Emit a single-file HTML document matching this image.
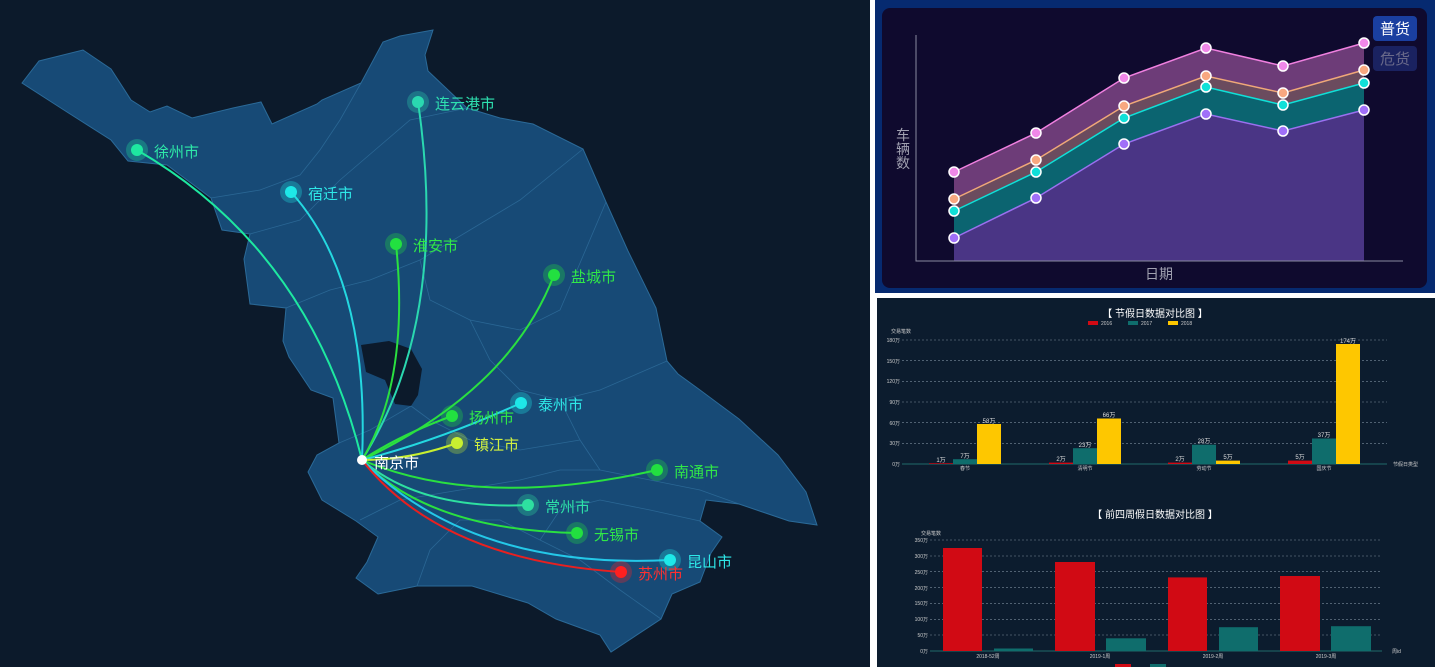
<!DOCTYPE html>
<html><head><meta charset="utf-8"><style>
html,body{margin:0;padding:0;background:#fff}
svg{display:block}
text{font-family:"Liberation Sans","Noto Sans CJK SC",sans-serif}
</style></head><body>
<svg width="1435" height="667" viewBox="0 0 1435 667" xmlns="http://www.w3.org/2000/svg">
<defs>
<radialGradient id="g"><stop offset="0" stop-color="#fff" stop-opacity="0.5"/><stop offset="1" stop-color="#fff" stop-opacity="0"/></radialGradient>
</defs>
<!-- left map panel -->
<rect x="0" y="0" width="870" height="667" fill="#0c1a2b"/>
<polygon fill="#174a76" stroke="#2b6a98" stroke-width="1" points="22,83 39,61 83,50 111,69 131,100 150,112 167,106 192,118 233,108 261,102 272,124 317,104 322,100 361,83 383,42 400,36 433,30 425,55 428,71 467,108 500,118 533,124 583,149 606,202 628,251 656,308 667,361 678,374 700,390 739,419 778,455 806,492 817,525 789,521 739,504 706,500 700,521 722,537 711,553 700,582 672,594 661,619 611,652 600,635 556,619 528,603 472,586 417,586 378,594 356,578 367,562 378,537 356,521 322,500 308,472 317,455 339,443 333,398 311,390 289,357 283,341 286,308 250,304 244,259 250,234 222,230 211,198 167,165 128,161 111,140 67,112"/>
<polygon fill="#0c1a2b" points="361,345 389,341 411,349 422,369 418,395 411,406 395,404 385,380 366,372"/>
<g fill="none" stroke="#2f6e9c" stroke-width="0.8" opacity="0.8">
<path d="M250,234 L300,220 L340,180 L375,150 L410,120 L467,108"/>
<path d="M211,198 L260,190 L300,175 L320,150 L340,120 L361,83"/>
<path d="M286,308 L330,290 L370,280 L420,260 L470,230 L520,200 L583,149"/>
<path d="M420,260 L430,300 L470,320 L520,330 L560,310 L606,202"/>
<path d="M470,320 L490,360 L520,390 L560,400 L600,390 L667,361"/>
<path d="M560,400 L580,440 L600,470 L650,480 L700,490 L739,504"/>
<path d="M411,406 L430,420 L470,440 L520,450 L580,440"/>
<path d="M339,443 L370,430 L411,406"/>
<path d="M360,520 L400,500 L460,490 L520,480 L560,470 L600,470"/>
<path d="M417,586 L430,550 L460,520 L500,520 L540,540 L580,560 L620,590 L661,619"/>
<path d="M540,540 L560,510 L600,500 L650,510 L700,521"/>
</g>
<!-- flight lines -->
<g fill="none" stroke-width="2">
<path d="M137,150 Q310,250 362,460" stroke="#1ee8a0"/>
<path d="M418,102 Q450,320 362,460" stroke="#2ad8b0"/>
<path d="M291,192 Q370,280 362,460" stroke="#24d8e0"/>
<path d="M396,244 Q410,380 362,460" stroke="#2ae040"/>
<path d="M554,275 Q510,390 362,460" stroke="#2ae040"/>
<path d="M452,416 Q400,435 362,460" stroke="#2ae040"/>
<path d="M521,403 Q440,440 362,460" stroke="#24d8e0"/>
<path d="M457,443 Q410,460 362,460" stroke="#c8f030"/>
<path d="M657,470 Q480,510 362,460" stroke="#2ae040"/>
<path d="M528,505 Q420,510 362,460" stroke="#2ee0a0"/>
<path d="M577,533 Q430,530 362,460" stroke="#2ae040"/>
<path d="M670,560 Q470,570 362,460" stroke="#24c8e8"/>
<path d="M621,572 Q440,560 362,460" stroke="#e82020"/>
</g>
<!-- city points -->
<g>
<circle cx="137" cy="150" r="11" fill="#1ee8a0" opacity="0.3"/><circle cx="137" cy="150" r="6" fill="#1ee8a0"/>
<circle cx="418" cy="102" r="11" fill="#2ad8b0" opacity="0.3"/><circle cx="418" cy="102" r="6" fill="#2ad8b0"/>
<circle cx="291" cy="192" r="11" fill="#1ee8e8" opacity="0.3"/><circle cx="291" cy="192" r="6" fill="#1ee8e8"/>
<circle cx="396" cy="244" r="11" fill="#22e040" opacity="0.3"/><circle cx="396" cy="244" r="6" fill="#22e040"/>
<circle cx="554" cy="275" r="11" fill="#22e040" opacity="0.3"/><circle cx="554" cy="275" r="6" fill="#22e040"/>
<circle cx="452" cy="416" r="11" fill="#22e040" opacity="0.3"/><circle cx="452" cy="416" r="6" fill="#22e040"/>
<circle cx="521" cy="403" r="11" fill="#1ee8e8" opacity="0.3"/><circle cx="521" cy="403" r="6" fill="#1ee8e8"/>
<circle cx="457" cy="443" r="11" fill="#c8f030" opacity="0.3"/><circle cx="457" cy="443" r="6" fill="#c8f030"/>
<circle cx="657" cy="470" r="11" fill="#22e040" opacity="0.3"/><circle cx="657" cy="470" r="6" fill="#22e040"/>
<circle cx="528" cy="505" r="11" fill="#2ee0a0" opacity="0.3"/><circle cx="528" cy="505" r="6" fill="#2ee0a0"/>
<circle cx="577" cy="533" r="11" fill="#22e040" opacity="0.3"/><circle cx="577" cy="533" r="6" fill="#22e040"/>
<circle cx="670" cy="560" r="11" fill="#1ee8e8" opacity="0.3"/><circle cx="670" cy="560" r="6" fill="#1ee8e8"/>
<circle cx="621" cy="572" r="11" fill="#ff2020" opacity="0.3"/><circle cx="621" cy="572" r="6" fill="#ff2020"/>
<circle cx="362" cy="460" r="5" fill="#fff"/>
</g>
<g font-size="15">
<text x="154" y="157" fill="#2ee8a8">徐州市</text>
<text x="435" y="109" fill="#2ee0b0">连云港市</text>
<text x="308" y="199" fill="#2ee8e8">宿迁市</text>
<text x="413" y="251" fill="#30e848">淮安市</text>
<text x="571" y="282" fill="#30e848">盐城市</text>
<text x="469" y="423" fill="#30e848">扬州市</text>
<text x="538" y="410" fill="#2ee8e8">泰州市</text>
<text x="474" y="450" fill="#d0f040">镇江市</text>
<text x="674" y="477" fill="#30e848">南通市</text>
<text x="545" y="512" fill="#2ee0a8">常州市</text>
<text x="594" y="540" fill="#30e848">无锡市</text>
<text x="687" y="567" fill="#2ee8e8">昆山市</text>
<text x="638" y="579" fill="#ff3030">苏州市</text>
<text x="374" y="468" fill="#ffffff">南京市</text>
</g>

<!-- top right panel -->
<rect x="875" y="0" width="560" height="293" fill="#062a70"/>
<rect x="882" y="8" width="545" height="280" rx="8" fill="#0f0a2e"/>
<polygon fill="#6d3c78" points="954,172 1036,133 1124,78 1206,48 1283,66 1364,43 1364,70 1283,93 1206,76 1124,106 1036,160 954,199"/>
<polygon fill="#6b4b5e" points="954,199 1036,160 1124,106 1206,76 1283,93 1364,70 1364,83 1283,105 1206,87 1124,118 1036,172 954,211"/>
<polygon fill="#0b6470" points="954,211 1036,172 1124,118 1206,87 1283,105 1364,83 1364,110 1283,131 1206,114 1124,144 1036,198 954,238"/>
<polygon fill="#4a3585" points="954,238 1036,198 1124,144 1206,114 1283,131 1364,110 1364,261 954,261"/>
<g fill="none" stroke-width="1.5">
<polyline stroke="#f080e0" points="954,172 1036,133 1124,78 1206,48 1283,66 1364,43"/>
<polyline stroke="#f0a878" points="954,199 1036,160 1124,106 1206,76 1283,93 1364,70"/>
<polyline stroke="#10e0d8" points="954,211 1036,172 1124,118 1206,87 1283,105 1364,83"/>
<polyline stroke="#9a70f0" points="954,238 1036,198 1124,144 1206,114 1283,131 1364,110"/>
</g>
<g stroke="#fff" stroke-width="1.5">
<g fill="#f088e8"><circle cx="954" cy="172" r="5"/><circle cx="1036" cy="133" r="5"/><circle cx="1124" cy="78" r="5"/><circle cx="1206" cy="48" r="5"/><circle cx="1283" cy="66" r="5"/><circle cx="1364" cy="43" r="5"/></g>
<g fill="#f8a880"><circle cx="954" cy="199" r="5"/><circle cx="1036" cy="160" r="5"/><circle cx="1124" cy="106" r="5"/><circle cx="1206" cy="76" r="5"/><circle cx="1283" cy="93" r="5"/><circle cx="1364" cy="70" r="5"/></g>
<g fill="#10e0d8"><circle cx="954" cy="211" r="5"/><circle cx="1036" cy="172" r="5"/><circle cx="1124" cy="118" r="5"/><circle cx="1206" cy="87" r="5"/><circle cx="1283" cy="105" r="5"/><circle cx="1364" cy="83" r="5"/></g>
<g fill="#a070f8"><circle cx="954" cy="238" r="5"/><circle cx="1036" cy="198" r="5"/><circle cx="1124" cy="144" r="5"/><circle cx="1206" cy="114" r="5"/><circle cx="1283" cy="131" r="5"/><circle cx="1364" cy="110" r="5"/></g>
</g>
<path d="M916,35 V261 H1403" fill="none" stroke="#8a8aa0" stroke-width="1"/>
<text x="1159" y="279" fill="#a0a0b0" font-size="14" text-anchor="middle">日期</text>
<text x="903" y="140" fill="#a0a0b0" font-size="14" text-anchor="middle">车</text>
<text x="903" y="154" fill="#a0a0b0" font-size="14" text-anchor="middle">辆</text>
<text x="903" y="168" fill="#a0a0b0" font-size="14" text-anchor="middle">数</text>
<rect x="1373" y="16" width="44" height="25" rx="4" fill="#1a3fa0"/>
<text x="1395" y="34" fill="#fff" font-size="15" text-anchor="middle">普货</text>
<rect x="1373" y="46" width="44" height="25" rx="4" fill="#1a2260"/>
<text x="1395" y="64" fill="#6a6a8a" font-size="15" text-anchor="middle">危货</text>

<!-- bottom right panel -->
<rect x="877" y="298" width="558" height="369" fill="#0c1c2e"/>
<text x="1155" y="317" fill="#fff" font-size="10" text-anchor="middle">【 节假日数据对比图 】</text>
<rect x="1088" y="321" width="10" height="4" fill="#d10a14"/><text x="1101" y="325" fill="#ccc" font-size="5">2016</text>
<rect x="1128" y="321" width="10" height="4" fill="#0f6d6c"/><text x="1141" y="325" fill="#ccc" font-size="5">2017</text>
<rect x="1168" y="321" width="10" height="4" fill="#fec700"/><text x="1181" y="325" fill="#ccc" font-size="5">2018</text>
<text x="891" y="333" fill="#ccc" font-size="5">交易笔数</text>
<g stroke="#7a8a9a" stroke-width="0.6" stroke-dasharray="2,2">
<line x1="902" y1="340" x2="1387" y2="340"/><line x1="902" y1="360.7" x2="1387" y2="360.7"/><line x1="902" y1="381.3" x2="1387" y2="381.3"/><line x1="902" y1="402" x2="1387" y2="402"/><line x1="902" y1="422.7" x2="1387" y2="422.7"/><line x1="902" y1="443.3" x2="1387" y2="443.3"/>
</g>
<line x1="902" y1="464" x2="1387" y2="464" stroke="#1f6a6a" stroke-width="1"/>
<g fill="#ccc" font-size="5" text-anchor="end">
<text x="900" y="342">180万</text><text x="900" y="363">150万</text><text x="900" y="383">120万</text><text x="900" y="404">90万</text><text x="900" y="425">60万</text><text x="900" y="445">30万</text><text x="900" y="466">0万</text>
</g>
<g>
<rect x="929" y="463.3" width="24" height="0.7" fill="#d10a14"/><rect x="953" y="459.2" width="24" height="4.8" fill="#0f6d6c"/><rect x="977" y="424" width="24" height="40" fill="#fec700"/>
<rect x="1049" y="462.6" width="24" height="1.4" fill="#d10a14"/><rect x="1073" y="448.2" width="24" height="15.8" fill="#0f6d6c"/><rect x="1097" y="418.5" width="24" height="45.5" fill="#fec700"/>
<rect x="1168" y="462.6" width="24" height="1.4" fill="#d10a14"/><rect x="1192" y="444.7" width="24" height="19.3" fill="#0f6d6c"/><rect x="1216" y="460.6" width="24" height="3.4" fill="#fec700"/>
<rect x="1288" y="460.6" width="24" height="3.4" fill="#d10a14"/><rect x="1312" y="438.5" width="24" height="25.5" fill="#0f6d6c"/><rect x="1336" y="344" width="24" height="120" fill="#fec700"/>
</g>
<g fill="#ddd" font-size="6" text-anchor="middle">
<text x="941" y="462">1万</text><text x="965" y="458">7万</text><text x="989" y="423">58万</text>
<text x="1061" y="461">2万</text><text x="1085" y="447">23万</text><text x="1109" y="417">66万</text>
<text x="1180" y="461">2万</text><text x="1204" y="443">28万</text><text x="1228" y="459">5万</text>
<text x="1300" y="459">5万</text><text x="1324" y="437">37万</text><text x="1348" y="343">174万</text>
</g>
<g fill="#ccc" font-size="5" text-anchor="middle">
<text x="965" y="470">春节</text><text x="1085" y="470">清明节</text><text x="1204" y="470">劳动节</text><text x="1324" y="470">国庆节</text>
</g>
<text x="1393" y="466" fill="#ccc" font-size="5">节假日类型</text>

<text x="1155" y="518" fill="#fff" font-size="10" text-anchor="middle">【 前四周假日数据对比图 】</text>
<text x="921" y="535" fill="#ccc" font-size="5">交易笔数</text>
<g stroke="#7a8a9a" stroke-width="0.6" stroke-dasharray="2,2">
<line x1="930" y1="540" x2="1382" y2="540"/><line x1="930" y1="556" x2="1382" y2="556"/><line x1="930" y1="571.7" x2="1382" y2="571.7"/><line x1="930" y1="587.6" x2="1382" y2="587.6"/><line x1="930" y1="603.4" x2="1382" y2="603.4"/><line x1="930" y1="619.3" x2="1382" y2="619.3"/><line x1="930" y1="635" x2="1382" y2="635"/>
</g>
<line x1="930" y1="651" x2="1382" y2="651" stroke="#1f6a6a" stroke-width="1"/>
<g fill="#ccc" font-size="5" text-anchor="end">
<text x="928" y="542">350万</text><text x="928" y="558">300万</text><text x="928" y="574">250万</text><text x="928" y="590">200万</text><text x="928" y="605">150万</text><text x="928" y="621">100万</text><text x="928" y="637">50万</text><text x="928" y="653">0万</text>
</g>
<g>
<rect x="943" y="548" width="39" height="103" fill="#d10a14"/><rect x="994" y="648.5" width="39" height="2.5" fill="#0f6d6c"/>
<rect x="1055" y="562" width="40" height="89" fill="#d10a14"/><rect x="1106" y="638.3" width="40" height="12.7" fill="#0f6d6c"/>
<rect x="1168" y="577.4" width="39" height="73.6" fill="#d10a14"/><rect x="1219" y="627.2" width="39" height="23.8" fill="#0f6d6c"/>
<rect x="1280" y="576" width="40" height="75" fill="#d10a14"/><rect x="1331" y="626.2" width="40" height="24.8" fill="#0f6d6c"/>
</g>
<g fill="#ccc" font-size="5" text-anchor="middle">
<text x="988" y="658">2018-52周</text><text x="1100" y="658">2019-1周</text><text x="1213" y="658">2019-2周</text><text x="1326" y="658">2019-3周</text>
</g>
<text x="1392" y="653" fill="#ccc" font-size="5">周id</text>
<rect x="1115" y="664" width="16" height="4" fill="#d10a14"/><rect x="1150" y="664" width="16" height="4" fill="#0f6d6c"/>
</svg>
</body></html>
